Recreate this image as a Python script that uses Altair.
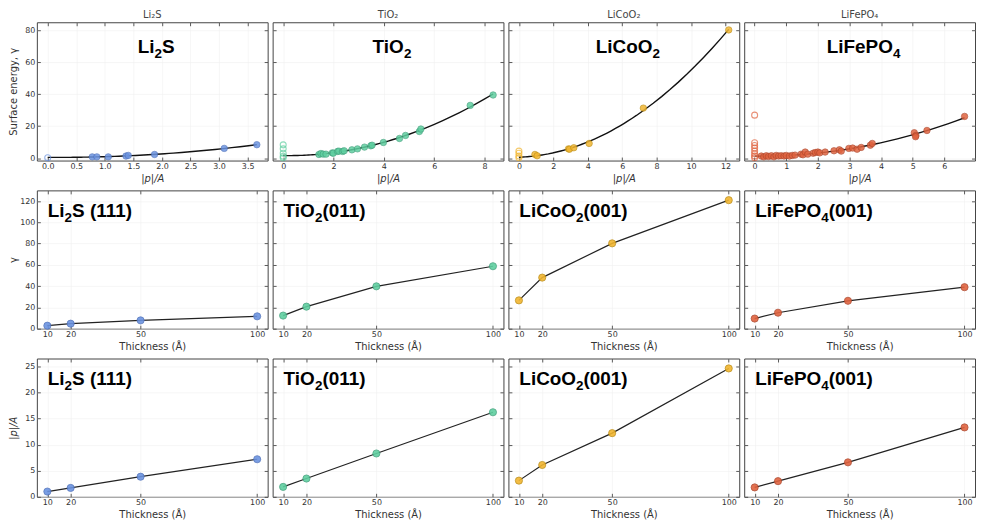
import altair as alt
import pandas as pd

materials = ["Li₂S", "TiO₂", "LiCoO₂", "LiFePO₄"]
# big in-panel labels as (text, is_subscript) pieces
top_labels = [[("Li", 0), ("2", 1), ("S", 0)],
              [("TiO", 0), ("2", 1)],
              [("LiCoO", 0), ("2", 1)],
              [("LiFePO", 0), ("4", 1)]]
facet_labels = [[("Li", 0), ("2", 1), ("S (111)", 0)],
                [("TiO", 0), ("2", 1), ("(011)", 0)],
                [("LiCoO", 0), ("2", 1), ("(001)", 0)],
                [("LiFePO", 0), ("4", 1), ("(001)", 0)]]
colors = ["#6b93e0", "#5fcfa0", "#f2b630", "#e0633f"]
edges = ["#4d6fb8", "#3c9c78", "#b88a10", "#a8432a"]

# ---- Row 1: surface energy vs |p|/A (filled = polar slabs, open = p = 0)
li2s_p = [0.78, 0.86, 1.06, 1.37, 1.41, 1.87, 3.09, 3.66]
li2s_g = [0.8, 0.8, 0.8, 1.3, 1.7, 2.3, 6.1, 8.4]
li2s_zero = [0.3]

tio2_p = [1.42, 1.50, 1.59, 1.70, 1.95, 1.99, 2.16, 2.21, 2.36, 2.42, 2.73,
          2.95, 3.23, 3.48, 3.53, 3.98, 4.62, 4.86, 5.41, 5.47, 7.43, 8.34]
tio2_g = [2.3, 2.9, 2.5, 2.5, 3.3, 3.1, 4.2, 4.4, 4.2, 4.6, 5.2,
          5.8, 6.9, 7.7, 8.1, 9.8, 12.3, 14.2, 16.7, 18.2, 33.0, 39.5]
tio2_zero = [8.3, 5.8, 3.1, 1.2, 0.2]

licoo2_p = [0.93, 1.06, 2.88, 2.94, 3.19, 4.08, 7.23, 12.19]
licoo2_g = [2.3, 1.5, 5.8, 5.6, 6.5, 9.2, 31.3, 80.2]
licoo2_zero = [4.4, 3.1, 1.3, 0.2]

lifepo4_p = [0.21, 0.29, 0.37, 0.44, 0.53, 0.61, 0.68, 0.76, 0.84, 0.93, 1.00,
             1.10, 1.19, 1.28, 1.47, 1.53, 1.60, 1.68, 1.85, 1.92, 2.00, 2.06,
             2.23, 2.51, 2.68, 2.74, 2.98, 3.10, 3.24, 3.37, 3.66, 3.72, 5.05,
             5.10, 5.09, 5.45, 6.64]
lifepo4_g = [1.3, 0.8, 1.5, 1.0, 1.5, 0.8, 1.7, 1.3, 1.5, 1.3, 1.7,
             1.3, 1.7, 1.9, 2.5, 2.1, 3.8, 2.5, 3.1, 3.5, 3.8, 3.3,
             3.8, 4.6, 5.2, 4.4, 6.1, 6.3, 5.6, 6.7, 8.1, 9.2, 15.9,
             14.2, 13.4, 17.3, 26.1]
lifepo4_zero = [26.9, 9.6, 7.9, 6.3, 4.4, 2.7, 1.3, 0.2]

top_p = [li2s_p, tio2_p, licoo2_p, lifepo4_p]
top_g = [li2s_g, tio2_g, licoo2_g, lifepo4_g]
top_zero = [li2s_zero, tio2_zero, licoo2_zero, lifepo4_zero]
top_xdom = [[-0.19, 3.85], [-0.42, 8.75], [-0.61, 12.8], [-0.33, 6.97]]
top_xticks = [[0, 0.5, 1.0, 1.5, 2.0, 2.5, 3.0, 3.5], [0, 2, 4, 6, 8],
              [0, 2, 4, 6, 8, 10, 12], [0, 1, 2, 3, 4, 5, 6]]
top_xfmt = [".1f", "d", "d", "d"]

# ---- Rows 2 and 3: vs slab thickness
thickness = [10, 20, 50, 100]
gamma_t = [[2.8, 4.7, 7.8, 11.6], [12.3, 20.7, 39.8, 58.7],
           [26.6, 48.0, 80.2, 120.8], [9.5, 15.0, 26.2, 39.0]]
p_t = [[1.0, 1.7, 3.85, 7.2], [1.9, 3.5, 8.3, 16.2],
       [3.1, 6.1, 12.2, 24.6], [1.8, 3.0, 6.6, 13.3]]

W, H = 232, 139
TS = 3.5
FONT = "DejaVu Sans"
BIG = "Liberation Sans"
BIG_FS = 19
SUB_FS = 13.5
# Arial/Liberation Sans Bold advance widths (per 1000 em)
ADV = {"L": 611, "i": 278, "S": 667, " ": 278, "(": 333, ")": 333, "0": 556,
       "1": 556, "2": 556, "4": 556, "T": 611, "O": 778, "C": 722, "o": 611,
       "F": 611, "e": 556, "P": 667}


def piece_width(s, fs):
    return sum(ADV.get(c, 600) for c in s) * fs / 1000.0


def label_layer(pieces, x0, base, center):
    total = sum(piece_width(t, SUB_FS if s else BIG_FS) for t, s in pieces)
    x = x0 - total / 2 if center else x0
    rows = []
    for t, s in pieces:
        fs = SUB_FS if s else BIG_FS
        rows.append({"txt": t, "px": x, "py": base + (5 if s else 0), "fs": fs})
        x += piece_width(t, fs)
    return alt.Chart(pd.DataFrame(rows)).mark_text(
        font=BIG, fontWeight="bold", color="black", align="left",
        baseline="alphabetic").encode(
        text="txt:N",
        x=alt.X("px:Q", scale=None, axis=None),
        y=alt.Y("py:Q", scale=None, axis=None),
        size=alt.Size("fs:Q", scale=None, legend=None))


def main_axis(orient, values, fmt, title, labels, italic=False):
    kw = dict(orient=orient, values=values, format=fmt, labels=labels,
              offset=-TS, tickSize=TS, tickColor="#333", tickWidth=0.8,
              domain=False, grid=True, gridColor="#efefef", gridWidth=0.6,
              labelFontSize=8, labelColor="#333", labelFont=FONT, labelPadding=2,
              titleFontSize=10, titleColor="#333", titleFont=FONT,
              titleFontWeight="normal", titlePadding=3)
    if title is not None:
        kw["title"] = title
        if italic:
            kw["titleFontStyle"] = "italic"
    else:
        kw["title"] = None
    if orient == "left":
        kw["minExtent"] = 19
        kw["maxExtent"] = 19
    return alt.Axis(**kw)


def mirror_axis(orient, values):
    return alt.Axis(orient=orient, values=values, labels=False, title=None,
                    offset=-TS, tickSize=TS, tickColor="#333", tickWidth=0.8,
                    domain=False, grid=False, minExtent=0, maxExtent=0)


def top_panel(i):
    df = pd.DataFrame({"p": top_p[i], "g": top_g[i]})
    dz = pd.DataFrame({"p": [0.0] * len(top_zero[i]), "g": top_zero[i]})
    xs = alt.Scale(domain=top_xdom[i], nice=False, zero=False)
    ys = alt.Scale(domain=[-1.5, 85], nice=False, zero=False)
    yt = [0, 20, 40, 60, 80]
    show = i == 0
    mirror = alt.Chart(df).mark_point(opacity=0).encode(
        x=alt.X("p:Q", scale=xs, axis=mirror_axis("top", top_xticks[i])),
        y=alt.Y("g:Q", scale=ys, axis=mirror_axis("right", yt)))
    fit = alt.Chart(df).transform_regression(
        "p", "g", method="poly", order=2, extent=[0, max(top_p[i])]
    ).mark_line(color="#111", strokeWidth=1.4).encode(
        x=alt.X("p:Q", scale=xs,
                axis=main_axis("bottom", top_xticks[i], top_xfmt[i], "|p|/A", True, True)),
        y=alt.Y("g:Q", scale=ys,
                axis=main_axis("left", yt, "d", "Surface energy, γ" if show else None, show)))
    pts = alt.Chart(df).mark_circle(size=42, opacity=0.85, color=colors[i],
                                    stroke=edges[i], strokeWidth=0.7).encode(
        x=alt.X("p:Q", scale=xs, axis=None), y=alt.Y("g:Q", scale=ys, axis=None))
    hol = alt.Chart(dz).mark_point(size=36, filled=False, color=colors[i],
                                   strokeWidth=1.1).encode(
        x=alt.X("p:Q", scale=xs, axis=None), y=alt.Y("g:Q", scale=ys, axis=None))
    lab = label_layer(top_labels[i], W / 2 + 4, 31, True)
    return alt.layer(mirror, fit, pts, hol, lab).resolve_axis(
        x="independent", y="independent").properties(
        width=W, height=H,
        title=alt.TitleParams(materials[i], fontSize=10, font=FONT, color="#444",
                              fontWeight="normal", offset=2))


def thick_panel(i, vals, ydom, yt, ytitle, italic):
    df = pd.DataFrame({"t": thickness, "v": vals})
    xs = alt.Scale(domain=[5.5, 104.5], nice=False, zero=False)
    ys = alt.Scale(domain=ydom, nice=False, zero=False)
    show = i == 0
    mirror = alt.Chart(df).mark_point(opacity=0).encode(
        x=alt.X("t:Q", scale=xs, axis=mirror_axis("top", thickness)),
        y=alt.Y("v:Q", scale=ys, axis=mirror_axis("right", yt)))
    line = alt.Chart(df).mark_line(color="#222", strokeWidth=1.2).encode(
        x=alt.X("t:Q", scale=xs,
                axis=main_axis("bottom", thickness, "d", "Thickness (Å)", True)),
        y=alt.Y("v:Q", scale=ys,
                axis=main_axis("left", yt, "d", ytitle if show else None, show, italic)))
    pts = alt.Chart(df).mark_circle(size=52, opacity=0.9, color=colors[i],
                                    stroke=edges[i], strokeWidth=0.8).encode(
        x=alt.X("t:Q", scale=xs, axis=None), y=alt.Y("v:Q", scale=ys, axis=None))
    lab = label_layer(facet_labels[i], 11, 27, False)
    return alt.layer(mirror, line, pts, lab).resolve_axis(
        x="independent", y="independent").properties(width=W, height=H)


charts = [top_panel(i) for i in range(4)]
charts += [thick_panel(i, gamma_t[i], [0, 130], [0, 20, 40, 60, 80, 100, 120], "γ", False)
           for i in range(4)]
charts += [thick_panel(i, p_t[i], [0, 26.5], [0, 5, 10, 15, 20, 25], "|p|/A", True)
           for i in range(4)]

chart = alt.concat(*charts, columns=4, spacing={"row": 30, "column": 5},
                   align="each", bounds="flush").properties(
    padding=0, background="white"
).configure_view(stroke="#444", strokeWidth=1)

chart.save("out.html", embed_options={"renderer": "svg", "actions": False})
